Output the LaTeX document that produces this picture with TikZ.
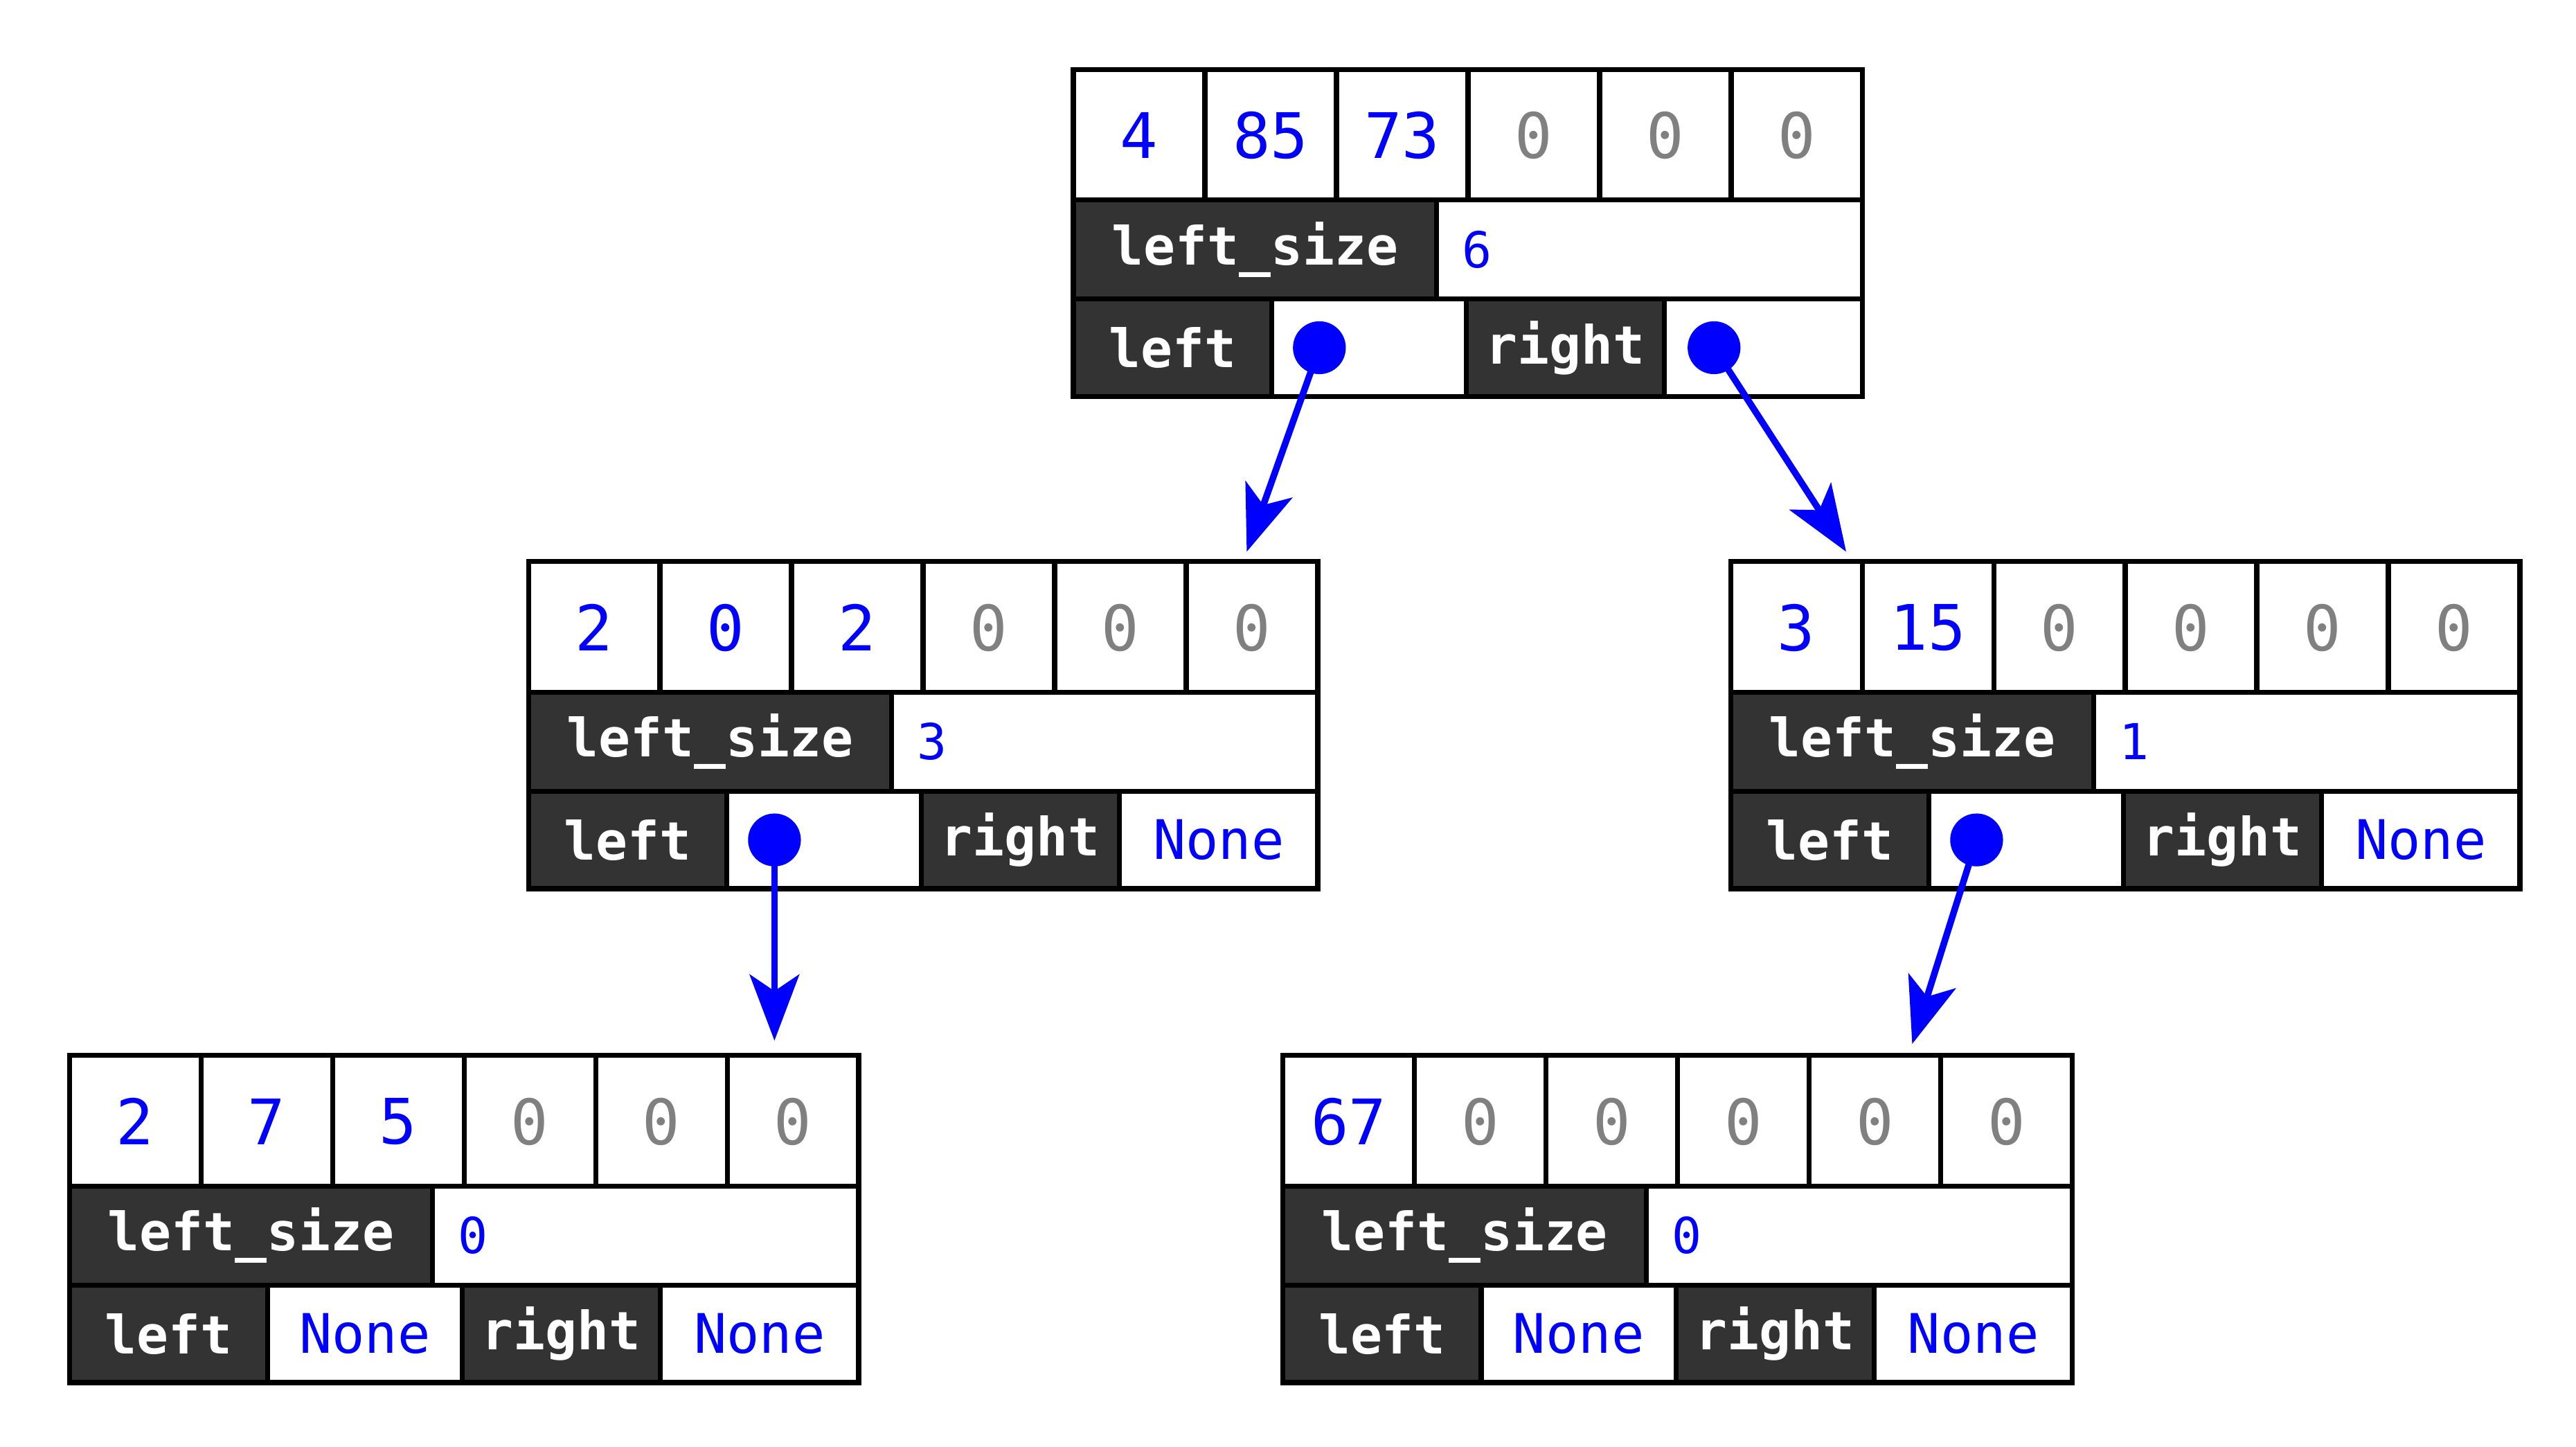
\documentclass[tikz,border=0pt]{standalone}
\usepackage{fontspec}
\setmonofont{DejaVu Sans Mono}
\usetikzlibrary{arrows.meta}
\definecolor{ptrColor}{RGB}{0,0,255}
\definecolor{darkColor}{RGB}{51,51,51}
\tikzset{
  frame/.style={line width=3pt, draw=black},
  darkcell/.style={fill=darkColor},
  numtext/.style={font=\ttfamily\fontsize{38pt}{44pt}\selectfont},
  labtext/.style={font=\ttfamily\bfseries\fontsize{32pt}{38pt}\selectfont, text=white},
  valtext/.style={font=\ttfamily\fontsize{30pt}{36pt}\selectfont, text=ptrColor},
  dot/.style={circle, fill=ptrColor, minimum size=32pt, inner sep=0pt},
  ptr/.style={line width=4pt, draw=ptrColor, -{Stealth[length=40pt,width=30pt,inset=10pt]}}
}
% name, x, y, cells (value/colour), left_size, left, right
\newcommand{\bnode}[7]{%
  \begin{scope}[shift={(#2,#3)}]
    \fill[darkcell] (0,79) rectangle (220,139);
    \fill[darkcell] (0,139) rectangle (120,198);
    \fill[darkcell] (238,139) rectangle (358,198);
    \draw[frame] (0,0) rectangle (478,198);
    \foreach \i in {1,...,5} \draw[frame] (\i*79.67,0) -- (\i*79.67,79);
    \draw[frame] (0,79) -- (478,79);
    \draw[frame] (0,139) -- (478,139);
    \draw[frame] (220,79) -- (220,139);
    \draw[frame] (120,139) -- (120,198);
    \draw[frame] (238,139) -- (238,198);
    \draw[frame] (358,139) -- (358,198);
    \foreach \v/\c [count=\i from 0] in {#4}
      \node[numtext, text=\c] (#1-c\i) at (\i*79.67+39.8,40) {\v};
    \node[labtext] (#1-sl) at (110,109) {left\_size};
    \node[valtext, anchor=west] (#1-sv) at (232,109) {#5};
    \node[labtext] (#1-ll) at (60,168.5) {left};
    \node[labtext] (#1-rl) at (298,168.5) {right};
    \node[valtext, font=\ttfamily\fontsize{33pt}{38pt}\selectfont] (#1-l) at (179,168.5) {#6};
    \node[valtext, font=\ttfamily\fontsize{33pt}{38pt}\selectfont] (#1-r) at (418,168.5) {#7};
  \end{scope}%
}
\begin{document}
\begin{tikzpicture}[x=1pt, y=-1pt]
  \useasboundingbox (0,0) rectangle (1560,876);
  \bnode{root}{650}{42}{4/ptrColor,85/ptrColor,73/ptrColor,0/gray,0/gray,0/gray}{6}{}{}
  \bnode{lc}{320}{340}{2/ptrColor,0/ptrColor,2/ptrColor,0/gray,0/gray,0/gray}{3}{}{None}
  \bnode{rc}{1048}{340}{3/ptrColor,15/ptrColor,0/gray,0/gray,0/gray,0/gray}{1}{}{None}
  \bnode{llc}{42}{639}{2/ptrColor,7/ptrColor,5/ptrColor,0/gray,0/gray,0/gray}{0}{None}{None}
  \bnode{rlc}{777}{639}{67/ptrColor,0/gray,0/gray,0/gray,0/gray,0/gray}{0}{None}{None}
  % pointers
  \node[dot] (root-ld) at ([xshift=-30pt]root-l.center) {};
  \node[dot] (root-rd) at ([xshift=-30pt]root-r.center) {};
  \node[dot] (lc-ld) at ([xshift=-30pt]lc-l.center) {};
  \node[dot] (rc-ld) at ([xshift=-30pt]rc-l.center) {};
  \coordinate (lc-tip) at (755,334);
  \coordinate (rc-tip) at (1118,334);
  \coordinate (llc-tip) at (469,630);
  \coordinate (rlc-tip) at (1158,632);
  \draw[ptr] (root-ld.center) -- (lc-tip);
  \draw[ptr] (root-rd.center) -- (rc-tip);
  \draw[ptr] (lc-ld.center) -- (llc-tip);
  \draw[ptr] (rc-ld.center) -- (rlc-tip);
\end{tikzpicture}
\end{document}
